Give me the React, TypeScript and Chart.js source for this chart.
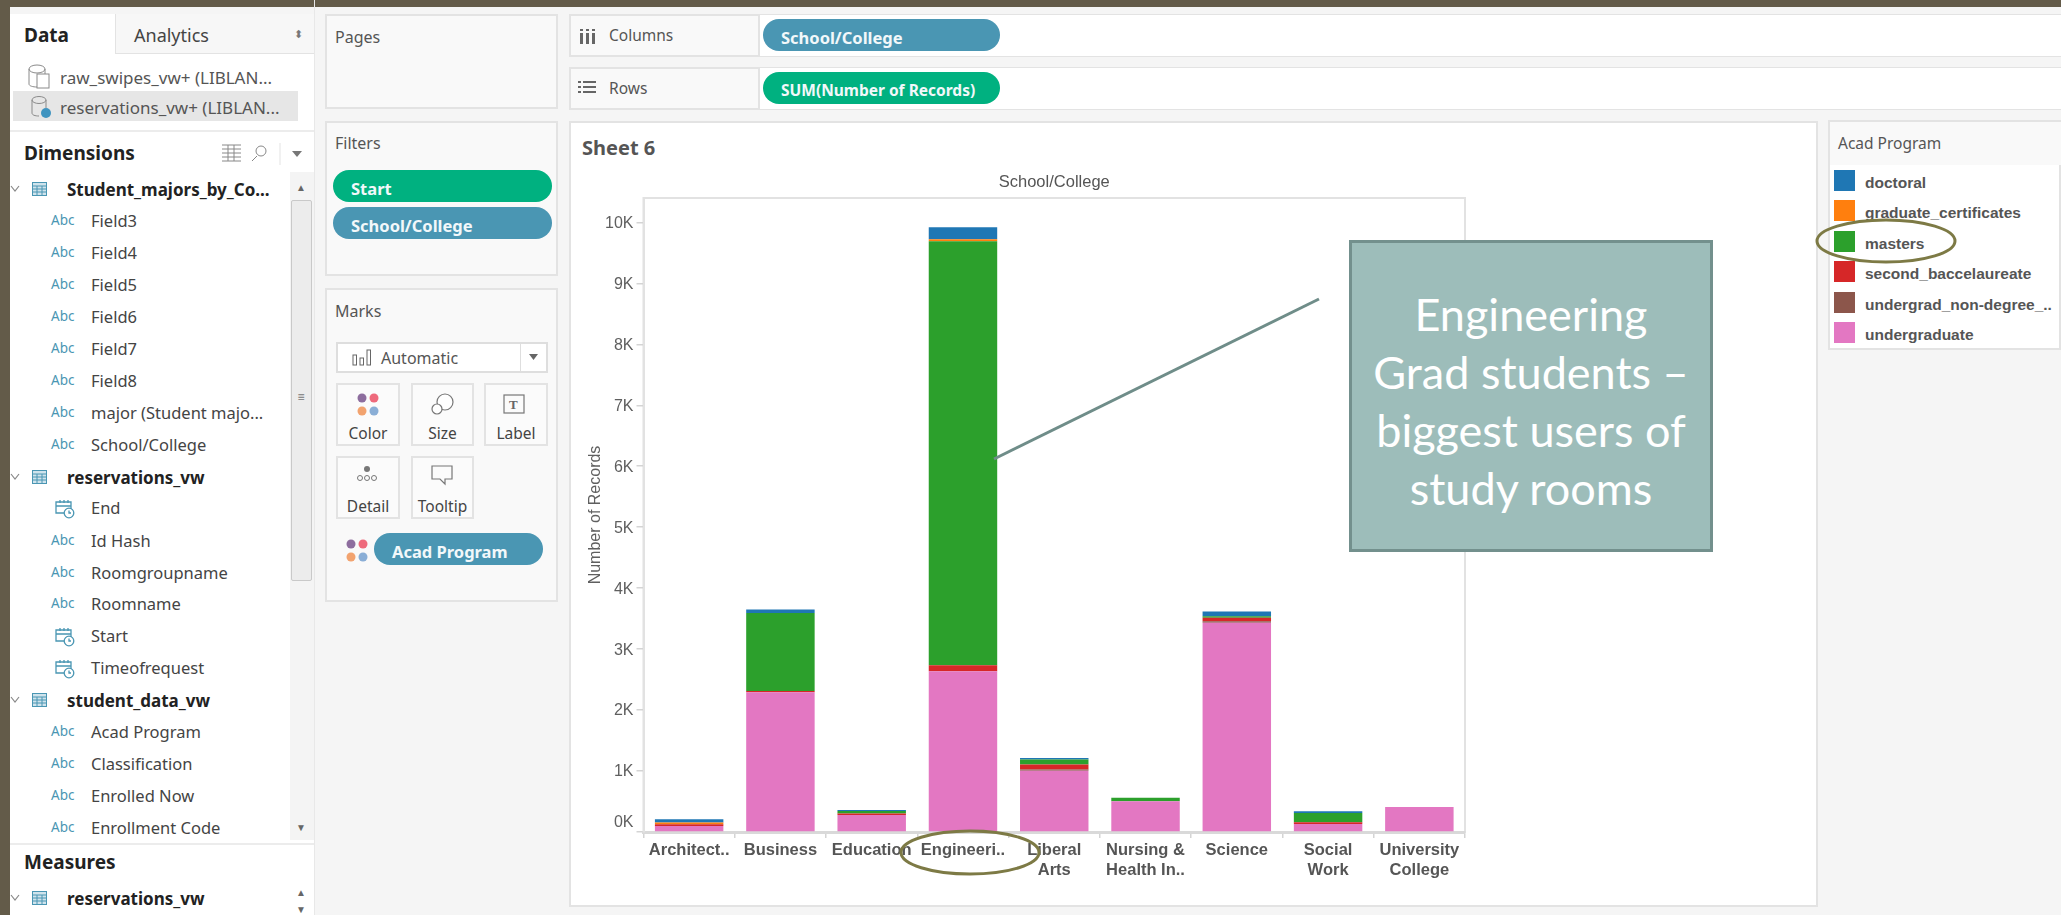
import React, { useEffect, useRef } from "react";
import { Chart, registerables } from "chart.js";

Chart.register(...registerables);

const categories = [
  ["Architect.."], ["Business"], ["Education"], ["Engineeri.."], ["Liberal", "Arts"],
  ["Nursing &", "Health In.."], ["Science"], ["Social", "Work"], ["University", "College"],
];
const undergraduate = [100, 2291, 280, 2637, 1005, 505, 3434, 132, 412];
const undergradNonDegree = [0, 0, 0, 0, 22, 0, 22, 0, 0];
const secondBaccelaureate = [27, 22, 22, 99, 82, 0, 60, 27, 0];
const masters = [0, 1280, 44, 6954, 82, 55, 22, 154, 0];
const graduateCertificates = [27, 0, 0, 33, 0, 0, 0, 0, 0];
const doctoral = [55, 55, 16, 197, 22, 0, 77, 27, 0];
const yTickValues = [0, 1000, 2000, 3000, 4000, 5000, 6000, 7000, 8000, 9000, 10000];
const yMax = 10400;

const legendNames = ["doctoral", "graduate_certificates", "masters", "second_baccelaureate", "undergrad_non-degree_..", "undergraduate"];
const legendColors = ["#1f77b4", "#ff7f0e", "#2ca02c", "#d62728", "#8c564b", "#e377c2"];

const fieldRows: [string, string, number, string?][] = [
  ["head", "Student_majors_by_Co...", 189],
  ["abc", "Field3", 221], ["abc", "Field4", 253], ["abc", "Field5", 285], ["abc", "Field6", 317],
  ["abc", "Field7", 349], ["abc", "Field8", 381], ["abc", "major (Student majo...", 413], ["abc", "School/College", 445],
  ["head", "reservations_vw", 477],
  ["date", "End", 508], ["abc", "Id Hash", 541], ["abc", "Roomgroupname", 573], ["abc", "Roomname", 604],
  ["date", "Start", 636], ["date", "Timeofrequest", 668],
  ["head", "student_data_vw", 700],
  ["abc", "Acad Program", 732], ["abc", "Classification", 764], ["abc", "Enrolled Now", 796], ["abc", "Enrollment Code", 828],
  ["head", "reservations_vw", 898],
];

const UI = '"Noto Sans", sans-serif';
const LAB = '"Liberation Sans", sans-serif';

function T(p: { x: number; y: number; s: number; c?: string; b?: boolean; f?: string; t: string; center?: boolean; ls?: number; sx?: number }) {
  return (
    <div style={{
      position: "absolute", left: p.x, top: p.y, transform: `translate(${p.center ? "-50%" : "0"},-50%) scaleX(${p.sx ?? 1})`,
      transformOrigin: p.center ? "center" : "left center",
      fontFamily: p.f ?? UI, fontSize: p.s, fontWeight: p.b ? 700 : 400, color: p.c ?? "#333", whiteSpace: "nowrap", lineHeight: 1, letterSpacing: p.ls ?? 0,
    }}>{p.t}</div>
  );
}
function Box(p: { x: number; y: number; w: number; h: number; bg?: string; bd?: string; r?: number; bw?: number }) {
  return <div style={{ position: "absolute", left: p.x, top: p.y, width: p.w, height: p.h, boxSizing: "border-box", background: p.bg, border: p.bd ? `${p.bw ?? 2}px solid ${p.bd}` : undefined, borderRadius: p.r }} />;
}
function Pill(p: { x: number; y: number; w: number; h: number; bg: string; t: string; tx: number; s?: number }) {
  return (
    <>
      <Box x={p.x} y={p.y} w={p.w} h={p.h} bg={p.bg} r={p.h / 2} />
      <T x={p.tx} y={p.y + p.h / 2 + 3} s={p.s ?? 16.5} c="#f2f8fa" t={p.t} b />
    </>
  );
}
function TableIcon({ x, y }: { x: number; y: number }) {
  return (
    <svg style={{ position: "absolute", left: x, top: y - 8 }} width={16} height={16}>
      <rect x={0.5} y={1.5} width={14} height={13} fill="#cfe3ec" stroke="#4a96b3" />
      <path d="M0.5 5h14M0.5 8h14M0.5 11h14M5 5v10M10 5v10" stroke="#4a96b3" strokeWidth={1} />
    </svg>
  );
}
function DateIcon({ x, y }: { x: number; y: number }) {
  return (
    <svg style={{ position: "absolute", left: x, top: y - 10 }} width={22} height={22} fill="none" stroke="#4a96b3" strokeWidth={1.3}>
      <path d="M10 15H2V4h15v7M2 8h15M6 2v3M10 2v3M14 2v3" />
      <circle cx={15} cy={15} r={4.8} fill="#fff" />
      <path d="M15 12.5V15h2" />
    </svg>
  );
}
function Dots({ x, y }: { x: number; y: number }) {
  return (
    <svg style={{ position: "absolute", left: x, top: y }} width={22} height={24}>
      <circle cx={5} cy={5} r={4.5} fill="#8d6d9e" /><circle cx={17} cy={5} r={4.5} fill="#ee6a7c" />
      <circle cx={5} cy={18} r={4.5} fill="#f2a36f" /><circle cx={17} cy={18} r={4.5} fill="#8aaed6" />
    </svg>
  );
}

const framePlugin = {
  id: "frame",
  beforeDraw(chart: any) {
    const a = chart.chartArea;
    const ctx = chart.ctx;
    ctx.save();
    ctx.strokeStyle = "#e2e2e2";
    ctx.lineWidth = 2;
    ctx.strokeRect(a.left, a.top, a.right - a.left, a.bottom - a.top);
    ctx.restore();
    const items = chart.scales.y.getLabelItems(a);
    const v = chart.scales.y.ticks;
    items.forEach((it: any, i: number) => {
      if (!it._moved) {
        it._moved = true;
        it.options.translation[1] += v[i].value === 0 ? -9 : 1;
      }
    });
  },
};

export default function App() {
  const ref = useRef<HTMLCanvasElement>(null);
  useEffect(() => {
    const labelFont = { family: "Liberation Sans", size: 16.5 };
    const chart = new Chart(ref.current as HTMLCanvasElement, {
      type: "bar",
      data: {
        labels: categories as any,
        datasets: [
          { label: legendNames[5], data: undergraduate, backgroundColor: legendColors[5] },
          { label: legendNames[4], data: undergradNonDegree, backgroundColor: legendColors[4] },
          { label: legendNames[3], data: secondBaccelaureate, backgroundColor: legendColors[3] },
          { label: legendNames[2], data: masters, backgroundColor: legendColors[2] },
          { label: legendNames[1], data: graduateCertificates, backgroundColor: legendColors[1] },
          { label: legendNames[0], data: doctoral, backgroundColor: legendColors[0] },
        ],
      },
      options: {
        animation: false,
        responsive: false,
        maintainAspectRatio: false,
        layout: { padding: { left: 0, top: 0, right: 352, bottom: 0 } },
        datasets: { bar: { barPercentage: 0.75, categoryPercentage: 1 } },
        plugins: { legend: { display: false }, tooltip: { enabled: false } },
        scales: {
          x: {
            stacked: true,
            offset: true,
            border: { color: "#d9d9d9", width: 3 },
            grid: { drawOnChartArea: false, color: "#d4d4d4", tickLength: 6, lineWidth: 1.5 },
            ticks: { color: "#555", autoSkip: false, maxRotation: 0, minRotation: 0, padding: 2, font: { ...labelFont, weight: "bold", lineHeight: 1.22 } },
            afterFit(s: any) { s.height = 74; },
          },
          xTop: {
            position: "top",
            type: "category",
            grid: { display: false },
            border: { display: false },
            ticks: { display: false },
            title: { display: true, text: "School/College", color: "#555", font: { ...labelFont }, padding: { top: 52, bottom: 0 } },
            afterFit(s: any) { s.height = 77; },
          },
          y: {
            stacked: true,
            min: 0,
            max: yMax,
            border: { color: "#e2e2e2", width: 2 },
            grid: { drawOnChartArea: false, color: "#d4d4d4", tickLength: 7, lineWidth: 1.5 },
            afterBuildTicks(s: any) { s.ticks = yTickValues.map((value) => ({ value })); },
            ticks: {
              color: "#5f5f5f",
              padding: 3,
              font: { ...labelFont, size: 16 },
              callback: (v: any) => `${Number(v) / 1000}K`,
            },
            title: { display: true, text: "Number of Records", color: "#5f5f5f", font: { ...labelFont, size: 16 }, padding: { top: 17, bottom: 0 } },
            afterFit(s: any) { s.width = 74.5; },
          },
        },
      } as any,
      plugins: [framePlugin],
    });
    return () => chart.destroy();
  }, []);

  return (
    <div style={{ position: "absolute", left: 0, top: 0, width: 2061, height: 915, overflow: "hidden", background: "#f5f5f5", filter: "blur(0.45px)" }}>
      {/* frame */}
      <Box x={0} y={0} w={2061} h={7} bg="#635b49" />
      <Box x={0} y={0} w={10} h={915} bg="#635b49" />

      {/* Data pane */}
      <Box x={10} y={14} w={304} h={901} bg="#fff" />
      <Box x={115} y={14} w={199} h={40} bg="#f7f7f7" />
      <Box x={115} y={14} w={1} h={40} bg="#e3e3e3" />
      <Box x={115} y={53} w={199} h={1} bg="#e3e3e3" />
      <T x={24} y={35} s={19} b c="#222" t="Data" />
      <T x={134} y={35} s={18} c="#444" t="Analytics" />
      <T x={298} y={33} s={11} c="#777" t="⬍" center />
      <svg style={{ position: "absolute", left: 27, top: 62 }} width={26} height={30} fill="none" stroke="#8a8a8a"><ellipse cx={10} cy={7} rx={8} ry={4} /><path d="M2 7v15c0 2 4 3 8 3M18 7v8" /><rect x={10} y={12} width={12} height={14} fill="#fff" /></svg>
      <T x={60} y={77} s={17} c="#555" t="raw_swipes_vw+ (LIBLAN..." />
      <Box x={13} y={91} w={285} h={30} bg="#e6e6e6" />
      <svg style={{ position: "absolute", left: 30, top: 94 }} width={24} height={26} fill="none" stroke="#8a8a8a"><ellipse cx={9} cy={6} rx={7} ry={3.5} /><path d="M2 6v13c0 2 3 3 7 3M16 6v8" /><circle cx={16} cy={19} r={5} fill="#3f94c0" stroke="none" /></svg>
      <T x={60} y={107} s={17} c="#555" t="reservations_vw+ (LIBLAN..." />
      <Box x={10} y={130} w={304} h={2} bg="#ececec" />
      <T x={24} y={153} s={19} b c="#222" t="Dimensions" />
      <svg style={{ position: "absolute", left: 222, top: 143 }} width={92} height={24} fill="none" stroke="#888">
        <path d="M0 2h19M0 6h19M0 10h19M0 14h19M0 18h19M6 2v16M12 2v16" strokeWidth={1} />
        <circle cx={39} cy={8} r={5} /><path d="M35 13l-5 5" />
        <path d="M58 0v22" stroke="#e3e3e3" />
        <path d="M70 8h10l-5 6z" fill="#777" stroke="none" />
      </svg>
      <Box x={290} y={172} w={24} h={668} bg="#f4f4f4" />
      <Box x={291} y={200} w={21} h={381} bg="#ececec" bd="#c9c9c9" bw={1} r={2} />
      <T x={301} y={187} s={10} c="#666" t="▲" center />
      <T x={301} y={827} s={10} c="#666" t="▼" center />
      <T x={301} y={892} s={10} c="#666" t="▲" center />
      <T x={301} y={909} s={10} c="#666" t="▼" center />
      <T x={301} y={397} s={12} c="#777" t="≡" center />
      {fieldRows.map(([k, t, y], i) => (
        <React.Fragment key={i}>
          {k === "head" && <svg style={{ position: "absolute", left: 10, top: y - 5 }} width={10} height={10} fill="none" stroke="#888" strokeWidth={1.2}><path d="M1 2l4 5 4-5" /></svg>}
          {k === "head" && <TableIcon x={32} y={y} />}
          {k === "abc" && <T x={51} y={y} s={13.5} c="#4a96b3" t="Abc" />}
          {k === "date" && <DateIcon x={54} y={y} />}
          <T x={k === "head" ? 67 : 91} y={y} s={k === "head" ? 17 : 16.5} b={k === "head"} c={k === "head" ? "#222" : "#444"} t={t} />
        </React.Fragment>
      ))}
      <Box x={10} y={843} w={304} h={2} bg="#ececec" />
      <T x={24} y={862} s={19} b c="#222" t="Measures" />
      <Box x={314} y={0} w={1} h={915} bg="#e8e8e8" />

      {/* Cards */}
      <Box x={325} y={14} w={233} h={95} bg="#f9f9f9" bd="#e3e3e3" />
      <T x={335} y={37} s={16} c="#555" t="Pages" />
      <Box x={325} y={121} w={233} h={155} bg="#f9f9f9" bd="#e3e3e3" />
      <T x={335} y={143} s={16} c="#555" t="Filters" />
      <Pill x={333} y={170} w={219} h={32} bg="#00b180" t="Start" tx={351} />
      <Pill x={333} y={207} w={219} h={32} bg="#4a96b3" t="School/College" tx={351} />
      <Box x={325} y={288} w={233} h={314} bg="#f9f9f9" bd="#e3e3e3" />
      <T x={335} y={311} s={16} c="#555" t="Marks" />
      <Box x={336} y={342} w={212} h={31} bg="#fff" bd="#dedede" />
      <Box x={520} y={343} w={1} h={29} bg="#dedede" />
      <svg style={{ position: "absolute", left: 352, top: 347 }} width={22} height={20} fill="none" stroke="#666"><rect x={1} y={8} width={3.5} height={10} /><rect x={8} y={11} width={3.5} height={7} /><rect x={15} y={3} width={3.5} height={15} /></svg>
      <T x={381} y={358} s={16} c="#555" t="Automatic" />
      <svg style={{ position: "absolute", left: 528, top: 353 }} width={12} height={10}><path d="M1 1h9l-4.5 6z" fill="#666" /></svg>
      {[[336, 64, 383, "Color"], [411, 63, 383, "Size"], [484, 64, 383, "Label"], [336, 64, 456, "Detail"], [411, 63, 456, "Tooltip"]].map(([x, w, y, t]: any) => (
        <React.Fragment key={t}>
          <Box x={x} y={y} w={w} h={63} bg="#fbfbfb" bd="#e3e3e3" />
          <T x={x + w / 2} y={y + 51} s={15.5} c="#444" t={t} center />
        </React.Fragment>
      ))}
      <Dots x={357} y={393} />
      <svg style={{ position: "absolute", left: 430, top: 393 }} width={26} height={24} fill="none" stroke="#777" strokeWidth={1.2}><circle cx={15} cy={9} r={8} fill="#fff" /><circle cx={7} cy={16} r={5} fill="#fff" /></svg>
      <svg style={{ position: "absolute", left: 503, top: 394 }} width={24} height={22} fill="none" stroke="#777" strokeWidth={1.2}><rect x={1} y={1} width={20} height={18} /><text x={6} y={15} fontSize={13} fontWeight={700} fill="#666" stroke="none" fontFamily="Liberation Serif">T</text></svg>
      <svg style={{ position: "absolute", left: 356, top: 465 }} width={24} height={18}><circle cx={11} cy={4} r={3} fill="#777" /><g fill="none" stroke="#777"><circle cx={4} cy={13} r={2.5} /><circle cx={11} cy={13} r={2.5} /><circle cx={18} cy={13} r={2.5} /></g></svg>
      <svg style={{ position: "absolute", left: 431, top: 465 }} width={24} height={22} fill="none" stroke="#777" strokeWidth={1.2}><path d="M1 1h20v13h-7v5l-5-5H1z" /></svg>
      <Dots x={346} y={539} />
      <Pill x={374} y={533} w={169} h={32} bg="#4a96b3" t="Acad Program" tx={392} />

      {/* Shelves */}
      <Box x={569} y={14} w={1492} h={43} bg="#f9f9f9" bd="#e3e3e3" />
      <Box x={758} y={15} w={1303} h={41} bg="#fff" />
      <Box x={758} y={15} w={2} h={41} bg="#e3e3e3" />
      <svg style={{ position: "absolute", left: 579, top: 29 }} width={18} height={16} fill="#666"><rect x={1} y={4} width={3} height={11} /><rect x={7} y={4} width={3} height={11} /><rect x={13} y={4} width={3} height={11} /><rect x={1} y={0} width={3} height={2} /><rect x={7} y={0} width={3} height={2} /><rect x={13} y={0} width={3} height={2} /></svg>
      <T x={609} y={36} s={15.5} c="#555" t="Columns" />
      <Pill x={763} y={19} w={237} h={32} bg="#4a96b3" t="School/College" tx={781} />
      <Box x={569} y={67} w={1492} h={43} bg="#f9f9f9" bd="#e3e3e3" />
      <Box x={758} y={68} w={1303} h={41} bg="#fff" />
      <Box x={758} y={68} w={2} h={41} bg="#e3e3e3" />
      <svg style={{ position: "absolute", left: 578, top: 80 }} width={20} height={16} fill="#666"><rect x={0} y={1} width={3} height={2} /><rect x={5} y={1} width={13} height={2} /><rect x={0} y={6} width={3} height={2} /><rect x={5} y={6} width={13} height={2} /><rect x={0} y={11} width={3} height={2} /><rect x={5} y={11} width={13} height={2} /></svg>
      <T x={609} y={89} s={15.5} c="#555" t="Rows" />
      <Pill x={763} y={72} w={237} h={32} bg="#00b180" t="SUM(Number of Records)" tx={781} s={15.5} />

      {/* Sheet */}
      <Box x={569} y={121} w={1249} h={786} bg="#fff" bd="#e3e3e3" />
      <T x={582} y={148} s={20} b c="#555" t="Sheet 6" />
      <canvas ref={ref} width={1248} height={785} style={{ position: "absolute", left: 569, top: 121, width: 1248, height: 785 }} />

      {/* Legend */}
      <Box x={1828} y={120} w={233} h={230} bg="#fff" bd="#e3e3e3" />
      <Box x={1830} y={122} w={231} h={43} bg="#f9f9f9" />
      <T x={1838} y={144} s={15.5} c="#555" t="Acad Program" />
      {legendNames.map((n, i) => (
        <React.Fragment key={n}>
          <Box x={1834} y={170 + i * 30.4} w={21} h={21} bg={legendColors[i]} />
          <T x={1865} y={183 + i * 30.4} s={15.5} c="#555" f={LAB} b t={n} />
        </React.Fragment>
      ))}

      {/* Callout */}
      <svg style={{ position: "absolute", left: 0, top: 0 }} width={2061} height={915} fill="none">
        <line x1={994} y1={459} x2={1319} y2={299} stroke="#6f8d89" strokeWidth={3} />
        <ellipse cx={970} cy={852.5} rx={69} ry={21.5} stroke="#7d7a45" strokeWidth={3} />
        <ellipse cx={1886} cy={241} rx={69} ry={21} stroke="#7d7a45" strokeWidth={3} />
      </svg>
      <Box x={1349} y={240} w={364} h={312} bg="#9dbdba" bd="#73908d" bw={3} />
      {["Engineering", "Grad students –", "biggest users of", "study rooms"].map((t, i) => (
        <T key={t} x={1531} y={314 + i * 58} s={45} f="Lato, sans-serif" c="#fff" t={t} center />
      ))}
    </div>
  );
}
